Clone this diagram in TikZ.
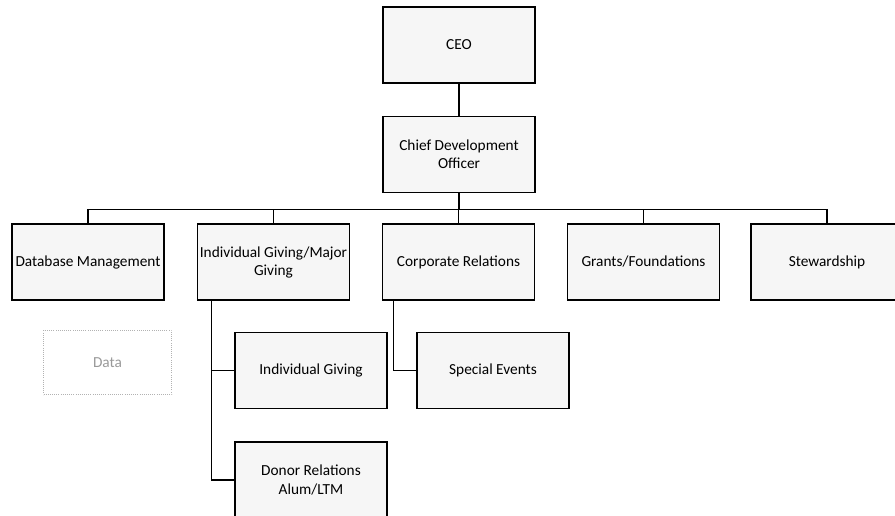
\documentclass[tikz,border=0pt]{standalone}
\usepackage{fontspec}
\setmainfont{Carlito}
\usetikzlibrary{positioning}
\begin{document}
\begin{tikzpicture}[x=0.75pt,y=0.75pt,
  unit/.style={draw=black,line width=1pt,fill=gray!7,minimum width=114pt,minimum height=57pt,
    align=center,inner sep=1pt,font=\fontsize{11.5}{13.5}\selectfont},
  ghost/.style={draw=gray!60,densely dotted,line width=0.6pt,minimum width=96pt,minimum height=48pt,
    text=gray!80,font=\fontsize{11.5}{13.5}\selectfont},
  link/.style={line width=0.9pt}]
\useasboundingbox (0,0) rectangle (895,-516);

% top of the chart
\node[unit] (ceo) at (459,-45) {CEO};
\node[unit] (cdo) at (459,-154.5) {Chief Development\\Officer};
\draw[link] (ceo.south) -- (cdo.north);

% departments
\node[unit] (db) at (88,-262) {Database Management};
\node[unit] (ig) at (273.5,-262) {Individual Giving/Major\\Giving};
\node[unit] (corp) at (458.5,-262) {Corporate Relations};
\node[unit] (grants) at (643.5,-262) {Grants/Foundations};
\node[unit] (stew) at (827,-262) {Stewardship};
\foreach \d in {db,ig,corp,grants,stew}
  \draw[link] (cdo.south) -- ++(0,-16) -| (\d.north);

% placeholder
\node[ghost] (data) at (107.5,-362.5) {Data};

% sub units
\node[unit] (indiv) at (311,-370.5) {Individual Giving};
\node[unit] (donor) at (311,-480) {Donor Relations\\Alum/LTM};
\node[unit] (events) at (493,-370.5) {Special Events};
\draw[link] (ig.south west) ++(15,0) |- (indiv.west);
\draw[link] (ig.south west) ++(15,0) |- (donor.west);
\draw[link] (corp.south west) ++(12,0) |- (events.west);
\end{tikzpicture}
\end{document}
